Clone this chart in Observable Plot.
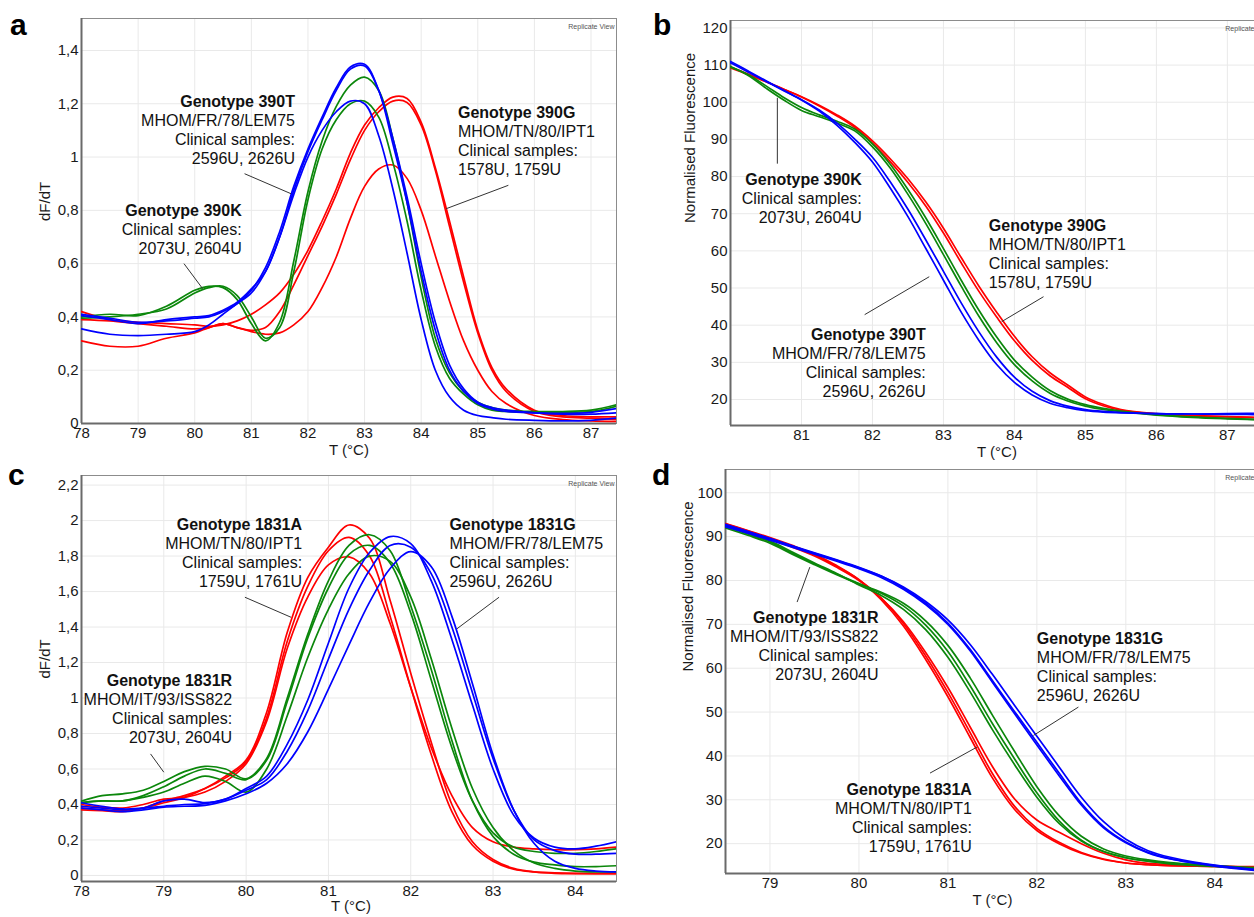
<!DOCTYPE html>
<html><head><meta charset="utf-8">
<script src="https://cdn.jsdelivr.net/npm/d3@7"></script>
<script src="https://cdn.jsdelivr.net/npm/@observablehq/plot@0.6"></script>
<style>
html,body{margin:0;padding:0;background:#fff;overflow:hidden;}
#fig{position:relative;width:1254px;height:917px;overflow:hidden;font-family:"Liberation Sans",Arial,Helvetica,sans-serif;}
.panel{position:absolute;}
.letter{position:absolute;font-weight:bold;font-size:30px;line-height:30px;color:#000;}
</style></head>
<body><div id="fig"></div>
<script>
const RED = "#ff0000", GREEN = "#0b870b", BLUE = "#0000ff";

// ---------- Panel a : dF/dT, 390 ----------
const aX = [78, 78.5, 79, 79.5, 80, 80.25, 80.5, 80.75, 81, 81.25, 81.5, 81.75, 82, 82.25, 82.5, 82.75, 83, 83.25, 83.5, 83.75, 84, 84.25, 84.5, 84.75, 85, 85.25, 85.5, 86, 86.5, 87, 87.45];
const aRed1 = [0.42, 0.39, 0.38, 0.375, 0.37, 0.365, 0.37, 0.385, 0.41, 0.445, 0.49, 0.56, 0.65, 0.76, 0.88, 1.015, 1.12, 1.185, 1.225, 1.22, 1.13, 0.96, 0.76, 0.55, 0.35, 0.21, 0.13, 0.05, 0.03, 0.025, 0.025];
const aRed2 = [0.39, 0.385, 0.375, 0.365, 0.355, 0.36, 0.375, 0.36, 0.35, 0.36, 0.42, 0.52, 0.63, 0.74, 0.86, 0.99, 1.10, 1.17, 1.21, 1.205, 1.12, 0.95, 0.74, 0.53, 0.34, 0.20, 0.12, 0.045, 0.025, 0.02, 0.015];
const aRed3 = [0.31, 0.29, 0.29, 0.32, 0.34, 0.36, 0.375, 0.36, 0.345, 0.335, 0.34, 0.37, 0.42, 0.51, 0.625, 0.77, 0.89, 0.955, 0.97, 0.92, 0.80, 0.63, 0.46, 0.31, 0.20, 0.12, 0.075, 0.03, 0.015, 0.01, 0.008];
const aGreen1 = [0.40, 0.41, 0.405, 0.44, 0.50, 0.515, 0.51, 0.465, 0.375, 0.31, 0.38, 0.61, 0.87, 1.06, 1.19, 1.27, 1.30, 1.25, 1.07, 0.83, 0.55, 0.32, 0.19, 0.12, 0.08, 0.06, 0.05, 0.045, 0.045, 0.05, 0.07];
const aGreen2 = [0.395, 0.40, 0.41, 0.43, 0.49, 0.51, 0.515, 0.48, 0.40, 0.32, 0.36, 0.57, 0.84, 1.03, 1.14, 1.20, 1.21, 1.15, 0.98, 0.76, 0.50, 0.29, 0.17, 0.11, 0.07, 0.05, 0.045, 0.042, 0.042, 0.045, 0.065];
const aBlue1 = [0.41, 0.395, 0.38, 0.385, 0.395, 0.40, 0.42, 0.45, 0.50, 0.585, 0.72, 0.89, 1.03, 1.15, 1.26, 1.338, 1.348, 1.25, 1.05, 0.83, 0.57, 0.35, 0.20, 0.12, 0.075, 0.055, 0.045, 0.04, 0.038, 0.042, 0.056];
const aBlue2 = [0.405, 0.39, 0.375, 0.39, 0.40, 0.405, 0.425, 0.455, 0.505, 0.57, 0.70, 0.875, 1.02, 1.14, 1.25, 1.33, 1.342, 1.25, 1.07, 0.85, 0.60, 0.38, 0.22, 0.13, 0.08, 0.06, 0.05, 0.04, 0.035, 0.035, 0.04];
const aBlue3 = [0.355, 0.335, 0.33, 0.335, 0.345, 0.37, 0.41, 0.45, 0.49, 0.57, 0.70, 0.86, 1.00, 1.10, 1.17, 1.21, 1.20, 1.08, 0.88, 0.64, 0.39, 0.20, 0.10, 0.05, 0.03, 0.022, 0.016, 0.012, 0.01, 0.012, 0.02];
const aXTicks = [78, 79, 80, 81, 82, 83, 84, 85, 86, 87];
const aYTicks = [0, 0.2, 0.4, 0.6, 0.8, 1, 1.2, 1.4];
const aNotes = [
  {x: 81.77, y: 1.206, anchor: "end", lines: ["Genotype 390T", "MHOM/FR/78/LEM75", "Clinical samples:", "2596U, 2626U"]},
  {x: 80.83, y: 0.7975, anchor: "end", lines: ["Genotype 390K", "Clinical samples:", "2073U, 2604U"]},
  {x: 84.65, y: 1.165, anchor: "start", lines: ["Genotype 390G", "MHOM/TN/80/IPT1", "Clinical samples:", "1578U, 1759U"]}
];
const aLeaders = [
  {x1: 80.88, y1: 0.9375, x2: 81.70, y2: 0.8625},
  {x1: 79.81, y1: 0.60, x2: 80.14, y2: 0.506},
  {x1: 85.54, y1: 0.894, x2: 84.44, y2: 0.806}
];

// ---------- Panel b : normalised fluorescence, 390 ----------
const bX = [80, 80.25, 80.5, 80.75, 81, 81.25, 81.5, 81.75, 82, 82.25, 82.5, 82.75, 83, 83.25, 83.5, 83.75, 84, 84.25, 84.5, 84.75, 85, 85.25, 85.5, 86, 86.5, 87, 87.65];
const bRed1 = [109.5, 107.6, 105.6, 103.5, 101.4, 99.0, 96.3, 93.2, 89.0, 84.0, 78.4, 72.1, 64.8, 56.8, 49.1, 42.2, 35.8, 30.5, 26.4, 23.3, 20.2, 18.3, 17.1, 16.1, 15.6, 15.3, 15.0];
const bRed2 = [109.2, 107.4, 105.5, 103.5, 101.5, 99.2, 96.6, 93.6, 89.6, 84.8, 79.4, 73.2, 66.1, 58.2, 50.5, 43.5, 37.0, 31.5, 27.2, 23.9, 20.7, 18.7, 17.3, 16.2, 15.7, 15.4, 15.1];
const bGreen1 = [109.6, 107.2, 103.8, 100.6, 97.8, 96.1, 94.4, 92.3, 88.0, 82.3, 75.2, 67.4, 59.0, 50.5, 42.4, 35.3, 29.4, 25.0, 21.7, 19.6, 18.2, 17.3, 16.7, 15.8, 15.2, 14.8, 14.4];
const bGreen2 = [109.4, 107.4, 104.4, 101.3, 98.6, 96.6, 94.9, 92.8, 88.8, 83.3, 76.5, 68.9, 60.6, 52.1, 44.0, 36.8, 30.6, 26.0, 22.4, 20.1, 18.6, 17.6, 16.9, 15.9, 15.3, 14.9, 14.5];
const bBlue1 = [111.0, 108.4, 105.8, 103.2, 100.6, 97.6, 93.8, 89.2, 83.9, 76.9, 69.2, 60.7, 52.1, 43.5, 35.9, 29.4, 24.6, 21.2, 19.0, 17.8, 17.0, 16.6, 16.4, 16.2, 16.1, 16.2, 16.3];
const bBlue2 = [110.6, 108.1, 105.6, 103.1, 100.7, 97.9, 94.4, 90.1, 85.2, 78.6, 71.2, 63.0, 54.5, 46.0, 38.2, 31.4, 26.0, 22.2, 19.7, 18.2, 17.3, 16.8, 16.5, 16.2, 16.1, 16.0, 15.9];
const bXTicks = [81, 82, 83, 84, 85, 86, 87];
const bYTicks = [20, 30, 40, 50, 60, 70, 80, 90, 100, 110, 120];
const bNotes = [
  {x: 81.85, y: 79.0, anchor: "end", lines: ["Genotype 390K", "Clinical samples:", "2073U, 2604U"]},
  {x: 83.64, y: 66.73, anchor: "start", lines: ["Genotype 390G", "MHOM/TN/80/IPT1", "Clinical samples:", "1578U, 1759U"]},
  {x: 82.75, y: 37.46, anchor: "end", lines: ["Genotype 390T", "MHOM/FR/78/LEM75", "Clinical samples:", "2596U, 2626U"]}
];
const bLeaders = [
  {x1: 80.66, y1: 101.2, x2: 80.66, y2: 83.47},
  {x1: 84.41, y1: 47.66, x2: 83.82, y2: 40.95},
  {x1: 81.89, y1: 42.83, x2: 82.80, y2: 53.04}
];

// ---------- Panel c : dF/dT, 1831 ----------
const cX = [78, 78.25, 78.5, 78.75, 79, 79.25, 79.5, 79.75, 80, 80.25, 80.5, 80.75, 81, 81.25, 81.5, 81.75, 82, 82.25, 82.5, 82.75, 83, 83.25, 83.5, 83.75, 84, 84.25, 84.5];
const cRed1 = [0.38, 0.37, 0.365, 0.38, 0.41, 0.44, 0.49, 0.56, 0.65, 0.92, 1.37, 1.68, 1.85, 1.975, 1.90, 1.55, 1.14, 0.75, 0.40, 0.19, 0.09, 0.04, 0.02, 0.012, 0.01, 0.01, 0.01];
const cRed2 = [0.37, 0.365, 0.36, 0.38, 0.42, 0.45, 0.49, 0.55, 0.64, 0.89, 1.32, 1.63, 1.83, 1.905, 1.80, 1.46, 1.06, 0.68, 0.36, 0.17, 0.08, 0.035, 0.02, 0.015, 0.012, 0.01, 0.01];
const cRed3 = [0.40, 0.385, 0.38, 0.40, 0.43, 0.44, 0.47, 0.53, 0.63, 0.87, 1.28, 1.57, 1.75, 1.795, 1.70, 1.42, 1.06, 0.72, 0.45, 0.27, 0.19, 0.16, 0.15, 0.145, 0.145, 0.15, 0.16];
const cGreen1 = [0.42, 0.45, 0.46, 0.48, 0.53, 0.585, 0.615, 0.60, 0.545, 0.66, 1.00, 1.36, 1.66, 1.86, 1.92, 1.83, 1.52, 1.16, 0.76, 0.42, 0.22, 0.12, 0.075, 0.06, 0.05, 0.05, 0.055];
const cGreen2 = [0.41, 0.42, 0.42, 0.45, 0.50, 0.56, 0.60, 0.575, 0.54, 0.65, 0.98, 1.34, 1.62, 1.81, 1.86, 1.76, 1.48, 1.10, 0.72, 0.42, 0.24, 0.16, 0.135, 0.125, 0.125, 0.135, 0.15];
const cGreen3 = [0.41, 0.42, 0.42, 0.44, 0.47, 0.52, 0.56, 0.53, 0.47, 0.60, 0.90, 1.23, 1.50, 1.70, 1.80, 1.77, 1.57, 1.22, 0.83, 0.49, 0.27, 0.14, 0.07, 0.04, 0.025, 0.02, 0.02];
const cBlue1 = [0.41, 0.39, 0.375, 0.38, 0.39, 0.40, 0.405, 0.43, 0.49, 0.56, 0.74, 0.99, 1.31, 1.62, 1.82, 1.91, 1.87, 1.66, 1.33, 0.96, 0.60, 0.34, 0.21, 0.16, 0.15, 0.165, 0.19];
const cBlue2 = [0.39, 0.38, 0.37, 0.38, 0.42, 0.43, 0.41, 0.43, 0.48, 0.54, 0.70, 0.93, 1.22, 1.50, 1.72, 1.86, 1.85, 1.70, 1.40, 1.03, 0.66, 0.37, 0.20, 0.14, 0.12, 0.12, 0.125];
const cBlue3 = [0.38, 0.37, 0.36, 0.37, 0.385, 0.39, 0.395, 0.42, 0.46, 0.52, 0.63, 0.81, 1.05, 1.30, 1.54, 1.73, 1.825, 1.74, 1.46, 1.08, 0.68, 0.37, 0.18, 0.08, 0.04, 0.025, 0.02];
const cXTicks = [78, 79, 80, 81, 82, 83, 84];
const cYTicks = [0, 0.2, 0.4, 0.6, 0.8, 1, 1.2, 1.4, 1.6, 1.8, 2, 2.2];
const cNotes = [
  {x: 80.68, y: 1.977, anchor: "end", lines: ["Genotype 1831A", "MHOM/TN/80/IPT1", "Clinical samples:", "1759U, 1761U"]},
  {x: 82.47, y: 1.977, anchor: "start", lines: ["Genotype 1831G", "MHOM/FR/78/LEM75", "Clinical samples:", "2596U, 2626U"]},
  {x: 79.83, y: 1.095, anchor: "end", lines: ["Genotype 1831R", "MHOM/IT/93/ISS822", "Clinical samples:", "2073U, 2604U"]}
];
const cLeaders = [
  {x1: 79.985, y1: 1.568, x2: 80.546, y2: 1.455},
  {x1: 83.073, y1: 1.568, x2: 82.561, y2: 1.39},
  {x1: 78.839, y1: 0.685, x2: 79.0, y2: 0.582}
];

// ---------- Panel d : normalised fluorescence, 1831 ----------
const dX = [78.5, 78.75, 79, 79.25, 79.5, 79.75, 80, 80.25, 80.5, 80.75, 81, 81.25, 81.5, 81.75, 82, 82.25, 82.5, 82.75, 83, 83.25, 83.5, 84, 84.66];
const dRed1 = [92.9, 91.3, 89.6, 87.8, 85.8, 83.2, 80.2, 76.0, 70.2, 62.8, 54.5, 45.3, 36.0, 28.5, 23.5, 20.3, 18.0, 16.5, 15.6, 15.2, 15.0, 14.8, 14.6];
const dRed2 = [92.6, 91.1, 89.4, 87.6, 85.6, 83.0, 80.0, 76.0, 70.6, 63.6, 55.6, 46.6, 37.6, 30.2, 25.4, 22.6, 20.0, 17.8, 16.3, 15.5, 15.2, 14.9, 14.7];
const dRed3 = [93.0, 91.4, 89.8, 88.0, 86.0, 83.4, 80.2, 75.6, 69.6, 62.0, 53.5, 44.2, 35.0, 27.8, 23.0, 20.0, 17.8, 16.4, 15.6, 15.2, 15.0, 14.8, 14.6];
const dGreen1 = [92.3, 90.6, 88.8, 86.2, 83.8, 81.5, 79.3, 77.1, 74.2, 69.8, 63.8, 56.0, 47.4, 39.3, 31.6, 25.2, 20.8, 18.2, 16.8, 16.0, 15.5, 14.9, 14.2];
const dGreen2 = [92.0, 90.3, 88.5, 86.0, 83.6, 81.3, 79.2, 77.3, 74.8, 70.8, 65.2, 57.8, 49.3, 41.0, 33.0, 26.4, 21.7, 18.8, 17.2, 16.3, 15.7, 15.0, 14.3];
const dGreen3 = [92.5, 90.8, 89.0, 86.5, 84.0, 81.6, 79.0, 76.6, 73.4, 68.8, 62.5, 54.6, 46.0, 38.0, 30.6, 24.6, 20.6, 18.2, 16.8, 16.0, 15.4, 14.8, 14.0];
const dBlue1 = [92.8, 91.2, 89.6, 87.9, 86.3, 84.7, 83.0, 81.0, 78.3, 74.8, 70.3, 64.3, 57.2, 50.1, 43.1, 36.1, 29.2, 23.9, 20.4, 18.0, 16.6, 15.0, 13.6];
const dBlue2 = [92.5, 91.0, 89.4, 87.8, 86.2, 84.6, 82.9, 81.0, 78.5, 75.2, 71.0, 65.4, 58.6, 51.5, 44.5, 37.5, 30.6, 25.0, 21.0, 18.4, 16.9, 15.1, 13.8];
const dBlue3 = [92.2, 90.8, 89.2, 87.6, 86.0, 84.4, 82.7, 80.7, 78.0, 74.5, 70.0, 64.0, 56.8, 49.6, 42.5, 35.5, 28.8, 23.6, 20.2, 17.9, 16.5, 14.9, 13.5];
const dXTicks = [79, 80, 81, 82, 83, 84];
const dYTicks = [20, 30, 40, 50, 60, 70, 80, 90, 100];
const dNotes = [
  {x: 80.22, y: 71.43, anchor: "end", lines: ["Genotype 1831R", "MHOM/IT/93/ISS822", "Clinical samples:", "2073U, 2604U"]},
  {x: 82.0, y: 66.72, anchor: "start", lines: ["Genotype 1831G", "MHOM/FR/78/LEM75", "Clinical samples:", "2596U, 2626U"]},
  {x: 81.27, y: 32.29, anchor: "end", lines: ["Genotype 1831A", "MHOM/TN/80/IPT1", "Clinical samples:", "1759U, 1761U"]}
];
const dLeaders = [
  {x1: 79.305, y1: 75.08, x2: 79.448, y2: 83.05},
  {x1: 82.467, y1: 51.14, x2: 81.962, y2: 44.68},
  {x1: 80.799, y1: 36.09, x2: 81.327, y2: 42.02}
];

const FONT = '"Liberation Sans", Arial, Helvetica, sans-serif';
const commaFmt = d => String(d).replace(".", ",");

function makePanel(cfg) {
  const rows = [];
  cfg.series.forEach((s, k) => s.ys.forEach((y, i) => rows.push({x: cfg.xs[i], y, id: k, color: s.color})));
  const marks = [
    Plot.ruleX(cfg.xTicks, {stroke: "#e9e9e9", strokeWidth: 1}),
    Plot.ruleY(cfg.yTicks, {stroke: "#e9e9e9", strokeWidth: 1}),
    Plot.frame({stroke: "#8c8c8c", strokeWidth: 1}),
    Plot.ruleX([cfg.xDomain[0]], {stroke: "#6a6a6a", strokeWidth: 2}),
    Plot.ruleY([cfg.yDomain[0]], {stroke: "#6a6a6a", strokeWidth: 2}),
    Plot.axisX({ticks: cfg.xTicks, tickSize: 0, tickPadding: 4, label: null, tickFormat: d => String(d), fontSize: 15, fill: "#1a1a1a"}),
    Plot.axisY({ticks: cfg.yTicks, tickSize: 0, tickPadding: 3, label: null, tickFormat: cfg.yFormat, fontSize: 15, fill: "#1a1a1a"}),
    Plot.line(rows, {x: "x", y: "y", z: "id", stroke: "color", strokeWidth: 1.7, curve: "catmull-rom", clip: true}),
    Plot.link(cfg.leaders, {x1: "x1", y1: "y1", x2: "x2", y2: "y2", stroke: "#333", strokeWidth: 1}),
    Plot.text(["Replicate View"], {text: d => d, frameAnchor: "top-right", dx: -2, dy: 6, textAnchor: "end", fontSize: 7, fill: "#555"}),
    Plot.text([cfg.xLabel], {text: d => d, frameAnchor: "bottom", dy: cfg.xLabelDy, dx: cfg.xLabelDx, fontSize: 15, fill: "#1a1a1a"}),
    Plot.text([cfg.yLabel], {text: d => d, frameAnchor: "left", dx: cfg.yLabelDx, rotate: -90, fontSize: 15, fill: "#1a1a1a"})
  ];
  cfg.notes.forEach(n => n.lines.forEach((t, i) => {
    marks.push(Plot.text([n], {x: "x", y: "y", text: () => t, dy: i * 19, textAnchor: n.anchor,
      fontWeight: i === 0 ? "bold" : "normal", fontSize: 16, fill: "#111"}));
  }));
  const svg = Plot.plot({
    width: cfg.width, height: cfg.height,
    marginLeft: cfg.mL, marginRight: cfg.mR, marginTop: cfg.mT, marginBottom: cfg.mB,
    x: {domain: cfg.xDomain},
    y: {domain: cfg.yDomain},
    color: {type: "identity"},
    style: {fontFamily: FONT, fontSize: "15px", background: "transparent", color: "#1a1a1a", overflow: "visible", maxWidth: "none"},
    marks
  });
  const div = document.createElement("div");
  div.className = "panel";
  div.style.left = cfg.left + "px";
  div.style.top = cfg.top + "px";
  div.appendChild(svg);
  document.getElementById("fig").appendChild(div);
}

makePanel({
  left: 0, top: 0, width: 630, height: 460, mL: 81, mR: 14, mT: 18, mB: 37,
  xDomain: [78, 87.45], yDomain: [0, 1.52], xTicks: aXTicks, yTicks: aYTicks, yFormat: commaFmt,
  xs: aX,
  series: [{color: RED, ys: aRed1}, {color: RED, ys: aRed2}, {color: RED, ys: aRed3},
           {color: GREEN, ys: aGreen1}, {color: GREEN, ys: aGreen2},
           {color: BLUE, ys: aBlue1}, {color: BLUE, ys: aBlue2}, {color: BLUE, ys: aBlue3}],
  notes: aNotes, leaders: aLeaders,
  xLabel: "T (°C)", xLabelDy: 31, xLabelDx: 0, yLabel: "dF/dT", yLabelDx: -36
});
makePanel({
  left: 630, top: 0, width: 660, height: 460, mL: 100, mR: 17, mT: 20, mB: 35,
  xDomain: [80, 87.65], yDomain: [13, 122], xTicks: bXTicks, yTicks: bYTicks, yFormat: d => String(d),
  xs: bX,
  series: [{color: RED, ys: bRed1}, {color: RED, ys: bRed2},
           {color: GREEN, ys: bGreen1}, {color: GREEN, ys: bGreen2},
           {color: BLUE, ys: bBlue1}, {color: BLUE, ys: bBlue2}],
  notes: bNotes, leaders: bLeaders,
  xLabel: "T (°C)", xLabelDy: 31, xLabelDx: -5, yLabel: "Normalised Fluorescence", yLabelDx: -40
});
makePanel({
  left: 0, top: 457, width: 630, height: 460, mL: 81, mR: 14, mT: 18, mB: 36,
  xDomain: [78, 84.5], yDomain: [-0.034, 2.254], xTicks: cXTicks, yTicks: cYTicks, yFormat: commaFmt,
  xs: cX,
  series: [{color: RED, ys: cRed1}, {color: RED, ys: cRed2}, {color: RED, ys: cRed3},
           {color: GREEN, ys: cGreen1}, {color: GREEN, ys: cGreen2}, {color: GREEN, ys: cGreen3},
           {color: BLUE, ys: cBlue1}, {color: BLUE, ys: cBlue2}, {color: BLUE, ys: cBlue3}],
  notes: cNotes, leaders: cLeaders,
  xLabel: "T (°C)", xLabelDy: 29, xLabelDx: 2, yLabel: "dF/dT", yLabelDx: -36
});
makePanel({
  left: 630, top: 457, width: 660, height: 460, mL: 95, mR: 17, mT: 12, mB: 44,
  xDomain: [78.5, 84.66], yDomain: [13.2, 105.3], xTicks: dXTicks, yTicks: dYTicks, yFormat: d => String(d),
  xs: dX,
  series: [{color: RED, ys: dRed1}, {color: RED, ys: dRed2}, {color: RED, ys: dRed3},
           {color: GREEN, ys: dGreen1}, {color: GREEN, ys: dGreen2}, {color: GREEN, ys: dGreen3},
           {color: BLUE, ys: dBlue1}, {color: BLUE, ys: dBlue2}, {color: BLUE, ys: dBlue3}],
  notes: dNotes, leaders: dLeaders,
  xLabel: "T (°C)", xLabelDy: 31, xLabelDx: -7, yLabel: "Normalised Fluorescence", yLabelDx: -37
});

const letters = [
  {t: "a", left: 10, top: 10}, {t: "b", left: 653, top: 10},
  {t: "c", left: 8, top: 460}, {t: "d", left: 652, top: 460}
];
letters.forEach(l => {
  const el = document.createElement("div");
  el.className = "letter";
  el.textContent = l.t;
  el.style.left = l.left + "px";
  el.style.top = l.top + "px";
  document.getElementById("fig").appendChild(el);
});
</script>
</body></html>
